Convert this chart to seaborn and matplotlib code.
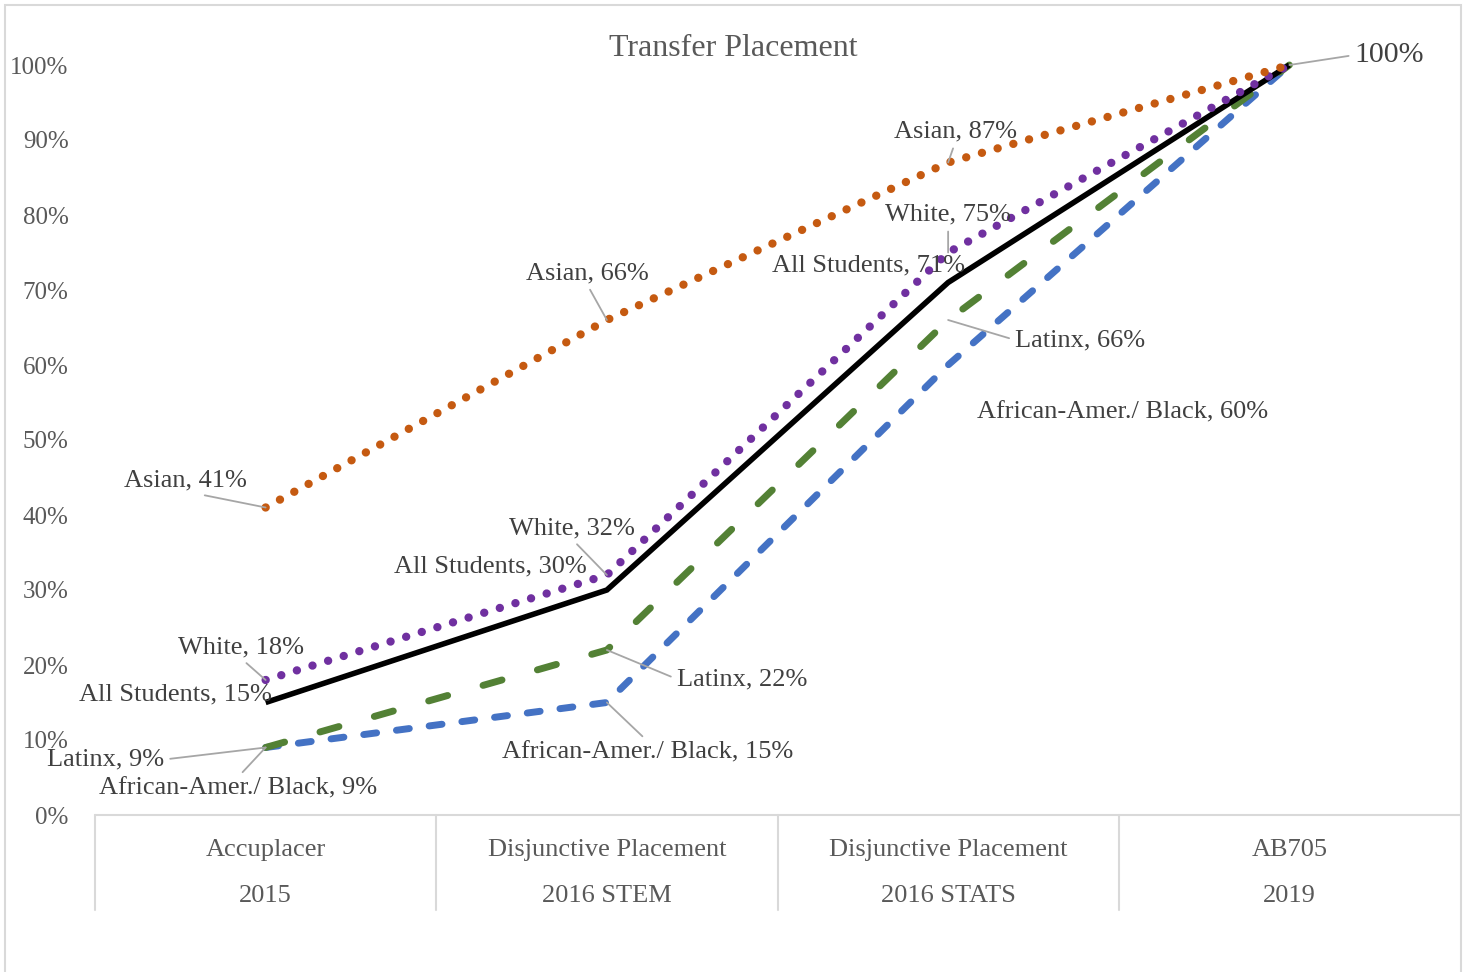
import matplotlib
matplotlib.use("Agg")
import matplotlib.pyplot as plt
import matplotlib.transforms as mtransforms
from matplotlib.patches import Rectangle
import seaborn as sns
import pandas as pd

# ---------------- data ----------------
categories = ["Accuplacer", "Disjunctive Placement", "Disjunctive Placement", "AB705"]
years = ["2015", "2016 STEM", "2016 STATS", "2019"]
series_names = ["African-Amer./ Black", "Latinx", "All Students", "White", "Asian"]
afam = [0.09, 0.15, 0.60, 1.00]
latinx = [0.09, 0.22, 0.66, 1.00]
all_students = [0.15, 0.30, 0.71, 1.00]
white = [0.18, 0.32, 0.75, 1.00]
asian = [0.41, 0.66, 0.87, 1.00]
yticks = [0.0, 0.1, 0.2, 0.3, 0.4, 0.5, 0.6, 0.7, 0.8, 0.9, 1.0]
title = "Transfer Placement"

values = {"African-Amer./ Black": afam, "Latinx": latinx, "All Students": all_students,
          "White": white, "Asian": asian}
rows = []
for name in series_names:
    for i, v in enumerate(values[name]):
        rows.append({"series": name, "pos": i, "value": v})
df = pd.DataFrame(rows)

# ---------------- style ----------------
sns.set_style("white")
plt.rcParams["font.family"] = ["Liberation Serif", "DejaVu Serif"]

styles = {
    "African-Amer./ Black": dict(color="#4472c4", lw=5.0, ls=(0, (1.87, 2.88))),
    "Latinx": dict(color="#538135", lw=5.0, ls=(0, (2.84, 5.3))),
    "All Students": dict(color="#000000", lw=4.0, ls="-"),
    "White": dict(color="#7030a0", lw=6.0, ls=(0, (0.01, 1.95))),
    "Asian": dict(color="#c55a11", lw=6.0, ls=(0, (0.01, 1.95))),
}

W, H = 1467, 972
fig = plt.figure(figsize=(W / 100, H / 100), dpi=100)
ax = fig.add_axes([95 / W, 1 - 815 / H, 1365 / W, 750 / H])

for name in series_names:
    st = styles[name]
    sns.lineplot(data=df[df["series"] == name], x="pos", y="value", ax=ax,
                 color=st["color"], linewidth=st["lw"], linestyle=st["ls"],
                 clip_on=False, legend=False)
    ln = ax.lines[-1]
    ln.set_dash_capstyle("round")
    ln.set_solid_capstyle("butt")
    ln.set_dash_joinstyle("round")
    ln.set_solid_joinstyle("miter")

ax.set_xlim(-0.5, 3.5)
ax.set_ylim(0, 1.0)
for s in ax.spines.values():
    s.set_visible(False)
ax.set_xlabel("")
ax.set_ylabel("")
ax.set_xticks([])
ax.set_yticks(yticks)
ax.set_yticklabels([f"{int(round(v * 100))}%" for v in yticks], fontsize=18, color="#595959")
ax.tick_params(axis="y", length=0, pad=19)

# category axis (multi-level)
grid_c = "#d9d9d9"
ax.plot([-0.5, 3.5], [0, 0], color=grid_c, lw=1.5, clip_on=False)
blend = mtransforms.blended_transform_factory(ax.transData, ax.transAxes)
for b in [-0.5, 0.5, 1.5, 2.5]:
    ax.plot([b, b], [0, -95 / 750], color=grid_c, lw=1.5, transform=blend, clip_on=False)
for i, (c, y) in enumerate(zip(categories, years)):
    ax.text(i, -35 / 750, c, transform=blend, ha="center", va="center", fontsize=19, color="#595959")
    ax.text(i, -81 / 750, y, transform=blend, ha="center", va="center", fontsize=19, color="#595959")

# ---------------- data labels ----------------
# (series, index, dx px, dy px, relpos, leader)
labels = [
    ("Asian", 0, -80, 27, (0.5, 0), True),
    ("Asian", 1, -20, 47, (0.5, 0), True),
    ("Asian", 2, 7, 31, (0.5, 0), True),
    ("White", 0, -25, 33, (0.5, 0), True),
    ("White", 1, -35, 47, (0.5, 0), True),
    ("White", 2, 0, 38, (0.5, 0), True),
    ("All Students", 0, -90, 8, (0.5, 0.5), False),
    ("All Students", 1, -117, 24, (0.5, 0.5), False),
    ("All Students", 2, -80, 17, (0.5, 0.5), False),
    ("Latinx", 0, -160, -12, (1, 0.5), True),
    ("Latinx", 1, 135, -29, (0, 0.5), True),
    ("Latinx", 2, 132, -20, (0, 0.5), True),
    ("African-Amer./ Black", 0, -28, -41, (0.5, 1), True),
    ("African-Amer./ Black", 1, 41, -50, (0.5, 1), True),
    ("African-Amer./ Black", 2, 174, -47, (0.5, 0.5), False),
]
lab_c = "#404040"
lead_c = "#a6a6a6"
for name, i, dx, dy, rp, lead in labels:
    v = values[name][i]
    txt = f"{name}, {int(round(v * 100))}%"
    ap = dict(arrowstyle="-", color=lead_c, lw=1.3, relpos=rp, shrinkA=2, shrinkB=0) if lead else None
    ax.annotate(txt, xy=(i, v), xytext=(dx, dy), textcoords="offset pixels",
                ha="center", va="center", fontsize=19, color=lab_c,
                arrowprops=ap, annotation_clip=False, zorder=5)

# final shared 100% label
ax.annotate(f"{int(round(asian[3] * 100))}%", xy=(3, asian[3]), xytext=(100, 10),
            textcoords="offset pixels", ha="center", va="center", fontsize=21.5, color=lab_c,
            arrowprops=dict(arrowstyle="-", color=lead_c, lw=1.3, relpos=(0, 0.5), shrinkA=2, shrinkB=0),
            annotation_clip=False, zorder=5)

fig.text(733 / W, 1 - 48 / H, title, ha="center", va="center", fontsize=23, color="#595959")

fig.patches.append(Rectangle((5 / W, -0.01), (1461 - 5) / W, 1.01 - 5 / H, transform=fig.transFigure,
                             fill=False, edgecolor=grid_c, lw=1.5))

fig.savefig("out.png", dpi=100)
